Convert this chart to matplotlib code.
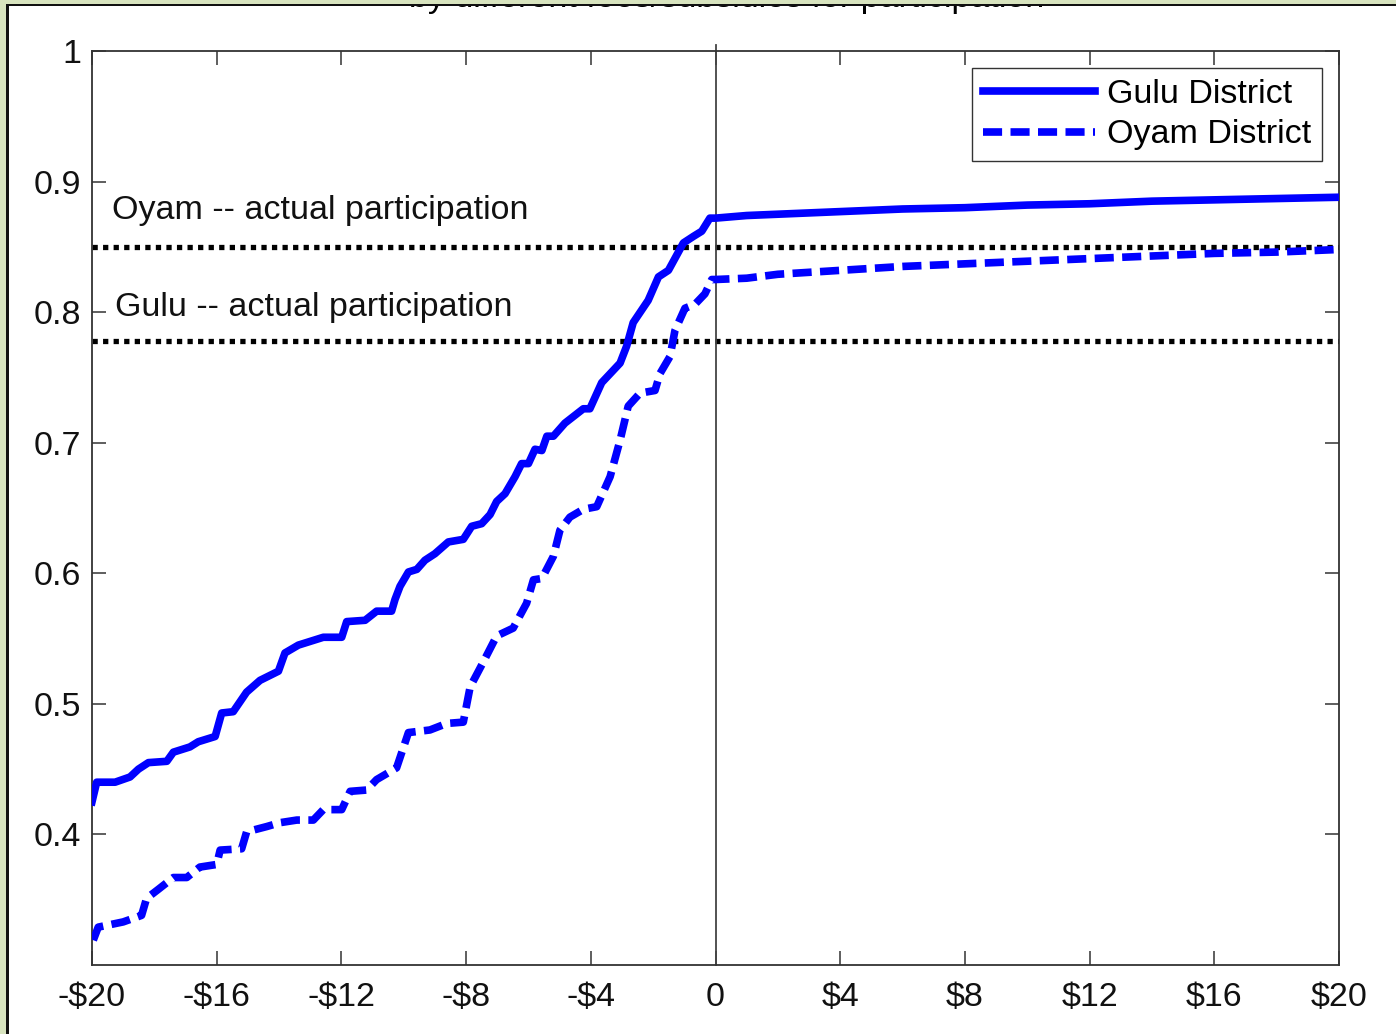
import matplotlib
matplotlib.use("Agg")
import matplotlib.pyplot as plt
from matplotlib.patches import Rectangle

plt.rcParams['font.family'] = ['Liberation Sans', 'DejaVu Sans']

# ---- data ----
gulu_x = [-20.0, -19.85, -19.26, -18.78, -18.51, -18.19, -17.60, -17.39, -16.86, -16.59,
          -16.05, -15.84, -15.47, -15.04, -14.61, -14.02, -13.81, -13.38, -12.58, -11.99,
          -11.83, -11.24, -10.87, -10.39, -10.28, -10.12, -9.85, -9.58, -9.32, -9.00,
          -8.57, -8.09, -7.82, -7.50, -7.23, -7.02, -6.75, -6.43, -6.22, -6.00,
          -5.79, -5.57, -5.41, -5.20, -4.83, -4.24, -4.03, -3.65, -3.06, -2.85,
          -2.64, -2.16, -1.83, -1.51, -1.03, -0.71, -0.44, -0.18, 0.0,
          1, 2, 3, 4, 6, 8, 10, 12, 14, 16, 18, 20]
gulu_y = [0.425, 0.440, 0.440, 0.444, 0.450, 0.455, 0.456, 0.463, 0.467, 0.471,
          0.475, 0.493, 0.494, 0.509, 0.518, 0.525, 0.539, 0.545, 0.551, 0.551,
          0.563, 0.564, 0.571, 0.571, 0.580, 0.590, 0.601, 0.603, 0.610, 0.615,
          0.624, 0.626, 0.636, 0.638, 0.645, 0.655, 0.661, 0.674, 0.684, 0.684,
          0.695, 0.694, 0.705, 0.705, 0.715, 0.726, 0.726, 0.746, 0.761, 0.774,
          0.792, 0.809, 0.827, 0.832, 0.853, 0.858, 0.862, 0.872, 0.872,
          0.874, 0.875, 0.876, 0.877, 0.879, 0.880, 0.882, 0.883, 0.885, 0.886, 0.887, 0.888]

oyam_x = [-19.96, -19.80, -19.00, -18.41, -18.25, -17.87, -17.39, -16.96, -16.54, -16.00,
          -15.89, -15.20, -15.04, -14.40, -13.97, -13.43, -12.90, -12.58, -11.99, -11.72,
          -11.19, -10.87, -10.23, -9.85, -9.16, -8.62, -8.09, -7.87, -7.45, -7.02,
          -6.49, -6.06, -5.84, -5.57, -5.20, -4.99, -4.67, -4.24, -3.81, -3.38,
          -3.06, -2.80, -2.42, -1.94, -1.78, -1.46, -1.30, -0.98, -0.66, -0.34,
          -0.12, 0.0, 1, 2, 4, 6, 8, 10, 12, 14, 16, 18, 20]
oyam_y = [0.319, 0.329, 0.333, 0.338, 0.351, 0.358, 0.367, 0.367, 0.375, 0.377,
          0.388, 0.389, 0.402, 0.406, 0.409, 0.411, 0.411, 0.419, 0.419, 0.433,
          0.434, 0.442, 0.451, 0.478, 0.480, 0.485, 0.486, 0.513, 0.532, 0.552,
          0.558, 0.577, 0.595, 0.596, 0.613, 0.633, 0.643, 0.649, 0.651, 0.674,
          0.702, 0.728, 0.738, 0.740, 0.753, 0.766, 0.786, 0.803, 0.806, 0.814,
          0.825, 0.825, 0.826, 0.829, 0.832, 0.835, 0.837, 0.839, 0.841, 0.843, 0.845, 0.846, 0.848]

oyam_actual = 0.850
gulu_actual = 0.778

x_ticks = [-20, -16, -12, -8, -4, 0, 4, 8, 12, 16, 20]
x_tick_labels = ['-$20', '-$16', '-$12', '-$8', '-$4', '0', '$4', '$8', '$12', '$16', '$20']
y_ticks = [0.4, 0.5, 0.6, 0.7, 0.8, 0.9, 1.0]
y_tick_labels = ['0.4', '0.5', '0.6', '0.7', '0.8', '0.9', '1']

# ---- figure ----
W, H = 1396, 1034
fig = plt.figure(figsize=(W / 100, H / 100), dpi=100)
fig.patch.set_facecolor('white')
ax = fig.add_axes([92 / W, 69 / H, 1247 / W, 914 / H])

blue = '#0000ff'
ax.plot(gulu_x, gulu_y, color=blue, lw=5.5, solid_joinstyle='round', label='Gulu District', zorder=3)
ax.plot(oyam_x, oyam_y, color=blue, lw=5.5, dashes=(2.5, 1.1), label='Oyam District', zorder=3)

ax.axhline(oyam_actual, color='black', lw=3.8, dashes=(1, 1), zorder=2)
ax.axhline(gulu_actual, color='black', lw=3.8, dashes=(1, 1), zorder=2)
ax.axvline(0, ymin=0, ymax=1.007, color='#444444', lw=1.3, clip_on=False, zorder=2)

fs = 24.5
ax.text(-19.36, 0.8775, 'Oyam -- actual participation', fontsize=fs, va='center', ha='left', color='#111111')
ax.text(-19.26, 0.8032, 'Gulu -- actual participation', fontsize=fs, va='center', ha='left', color='#111111')

ax.set_xlim(-20, 20)
ax.set_ylim(0.3, 1.0)
ax.set_xticks(x_ticks)
ax.set_xticklabels(x_tick_labels)
ax.set_yticks(y_ticks)
ax.set_yticklabels(y_tick_labels)
ax.tick_params(axis='both', direction='in', length=10, width=1.1, color='#333333',
               top=True, right=True, labelsize=fs, labelcolor='#111111')
ax.tick_params(axis='x', pad=12)
ax.tick_params(axis='y', pad=8)
for s in ax.spines.values():
    s.set_color('#333333')
    s.set_linewidth(1.3)

leg = ax.legend(loc='upper right', bbox_to_anchor=((1322 - 92) / 1247, 1 - (68 - 51) / 914),
                borderaxespad=0, fontsize=fs, frameon=True, fancybox=False, shadow=False,
                handlelength=3.3, handletextpad=0.35, labelspacing=0.28, borderpad=0.32)
leg.get_frame().set_edgecolor('black')
leg.get_frame().set_linewidth(1.0)

# cut-off title at very top (only its lowest part shows in the reference)
fig.text(727 / W, 1 - 7 / H, 'by different fees/subsidies for participation', fontsize=fs,
         ha='center', va='baseline', color='black')

# page frame (green border, left and top)
green = '#d8e4bf'
fig.patches.append(Rectangle((0, 0), 6 / W, 1, transform=fig.transFigure, facecolor=green,
                             edgecolor='none', zorder=10))
fig.patches.append(Rectangle((6 / W, 0), 3 / W, 1 - 4 / H, transform=fig.transFigure, facecolor='#111111',
                             edgecolor='none', zorder=10))
fig.patches.append(Rectangle((0, 1 - 4 / H), 1, 4 / H, transform=fig.transFigure, facecolor=green,
                             edgecolor='none', zorder=10))
fig.patches.append(Rectangle((6 / W, 1 - 6 / H), 1, 2 / H, transform=fig.transFigure, facecolor='#111111',
                             edgecolor='none', zorder=10))

fig.savefig('out.png', dpi=100)
